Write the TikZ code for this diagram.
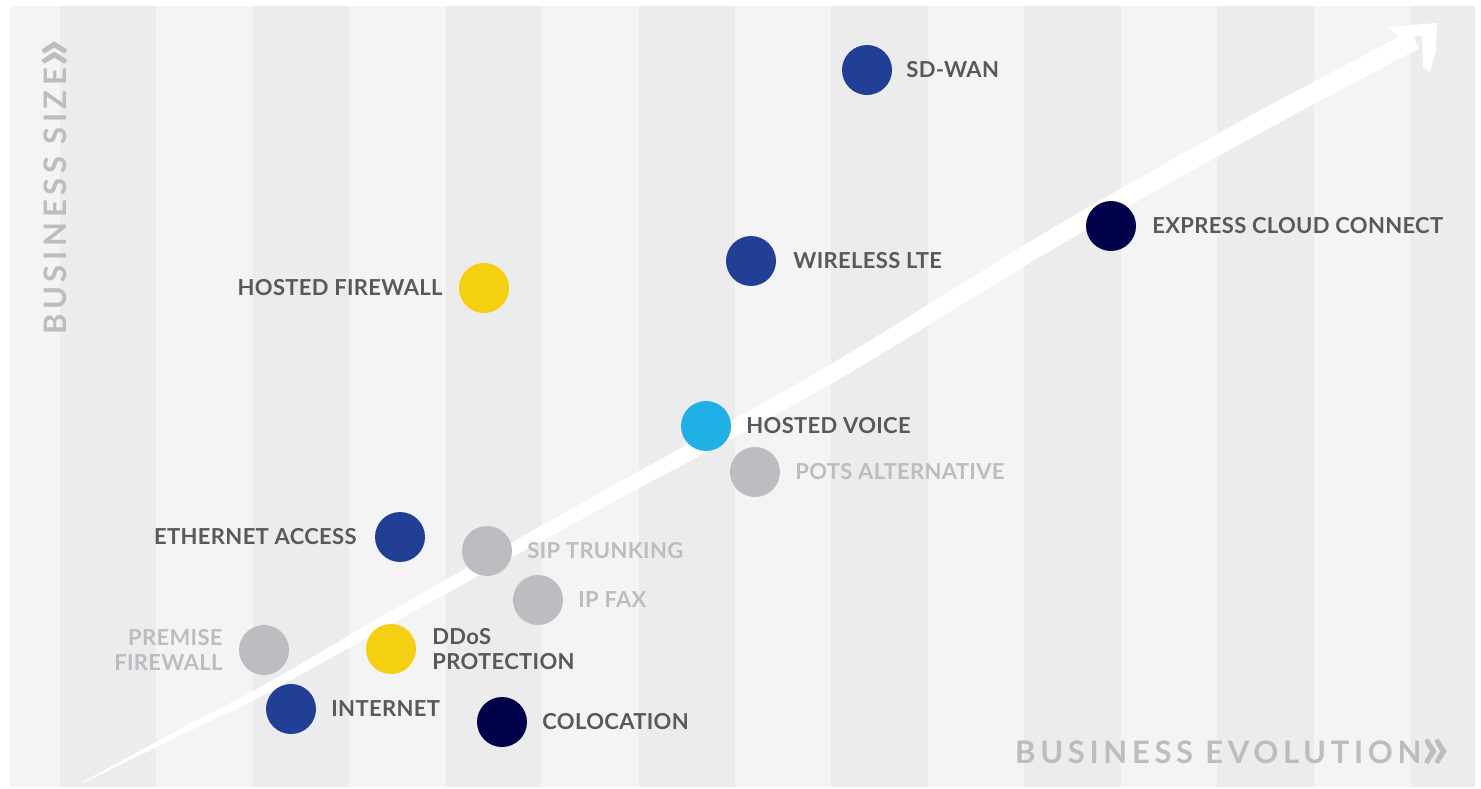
\documentclass[tikz,border=0pt]{standalone}
\usepackage{fontspec}
\setmainfont{Lato}
\newfontfamily\labfont[LetterSpace=1.5]{Lato}
\newfontfamily\axisfont[LetterSpace=15]{Lato}
\usetikzlibrary{positioning}
\definecolor{stripe}{HTML}{ECECEC}
\definecolor{paper}{HTML}{F4F4F4}
\definecolor{royal}{HTML}{213F95}
\definecolor{navy}{HTML}{02024A}
\definecolor{sky}{HTML}{1FB0E6}
\definecolor{gold}{HTML}{F4CF12}
\definecolor{mist}{HTML}{BCBDC0}
\definecolor{ink}{HTML}{58595B}
\newcommand{\more}{\raisebox{-5pt}{\fontsize{62}{62}\selectfont»}}

\begin{document}
\begin{tikzpicture}[x=1pt,y=-1pt,node distance=15pt,
  dot/.style={circle,minimum size=50pt,inner sep=0pt,fill=#1},
  lab/.style={font=\labfont\bfseries\fontsize{22}{25}\selectfont,text=ink,inner sep=0pt},
  dim/.style={lab,text=mist},
  axis/.style={font=\axisfont\bfseries\fontsize{31}{31}\selectfont,text=mist,inner sep=0pt}]
\useasboundingbox (0,0) rectangle (1481,789);
\fill [paper] (10,6) rectangle (1475,787);
\foreach \i in {0,...,7}
  \fill [stripe] ({60+\i*192.86},6) rectangle ({min(156.4+\i*192.86,1475)},787);
% brush arrow
\fill [white] plot[smooth] coordinates {(81.8,782.6) (179.0,729.5) (261.6,686.4) (398.1,607.0) (597.6,494.0) (820.1,370.5) (1046.9,231.5) (1246.6,117.8) (1410.6,31.0)}
  -- plot[smooth] coordinates {(1419.4,48.2) (1254.4,136.2) (1054.1,248.5) (826.9,386.3) (603.4,507.4) (402.9,617.5) (265.4,694.2) (181.5,734.8) (82.2,783.4)} -- cycle;
\fill [white] (1387,27) -- (1437,23) -- (1436,50) -- (1430,72) -- (1423,67) -- (1422,36) -- (1400,37) -- cycle;
% services
\node [dot=royal] (wan) at (867,70) {};
\node [lab,right=14pt of wan] (wanl) {SD-WAN};
\node [dot=navy] (ecc) at (1111,226) {};
\node [lab,right=16pt of ecc] (eccl) {EXPRESS CLOUD CONNECT};
\node [dot=royal] (lte) at (751,261) {};
\node [lab,right=17pt of lte] (ltel) {WIRELESS LTE};
\node [dot=gold] (hfw) at (484,288) {};
\node [lab,left=16pt of hfw] (hfwl) {HOSTED FIREWALL};
\node [dot=sky] (voice) at (706,426) {};
\node [lab,right=of voice] (voicel) {HOSTED VOICE};
\node [dot=mist] (pots) at (755,472) {};
\node [dim,right=of pots] (potsl) {POTS ALTERNATIVE};
\node [dot=royal] (eth) at (400,537) {};
\node [lab,left=18pt of eth] (ethl) {ETHERNET ACCESS};
\node [dot=mist] (sip) at (487,551) {};
\node [dim,right=of sip] (sipl) {SIP TRUNKING};
\node [dot=mist] (fax) at (538,600) {};
\node [dim,right=of fax] (faxl) {IP FAX};
\node [dot=mist] (pfw) at (264,650) {};
\node [dim,align=right,left=16pt of pfw] (pfwl) {PREMISE\\FIREWALL};
\node [dot=gold] (ddos) at (391,649) {};
\node [lab,align=left,right=16pt of ddos] (ddosl) {DDoS\\PROTECTION};
\node [dot=royal] (net) at (291,709) {};
\node [lab,right=of net] (netl) {INTERNET};
\node [dot=navy] (colo) at (502,722) {};
\node [lab,right=of colo] (colol) {COLOCATION};
% axes
\node [axis,anchor=west] (evo) at (1015,754) {BUSINESS EVOLUTION\more};
\node [axis,anchor=west,rotate=90] (size) at (57,335) {BUSINESS SIZE\more};
\end{tikzpicture}
\end{document}
